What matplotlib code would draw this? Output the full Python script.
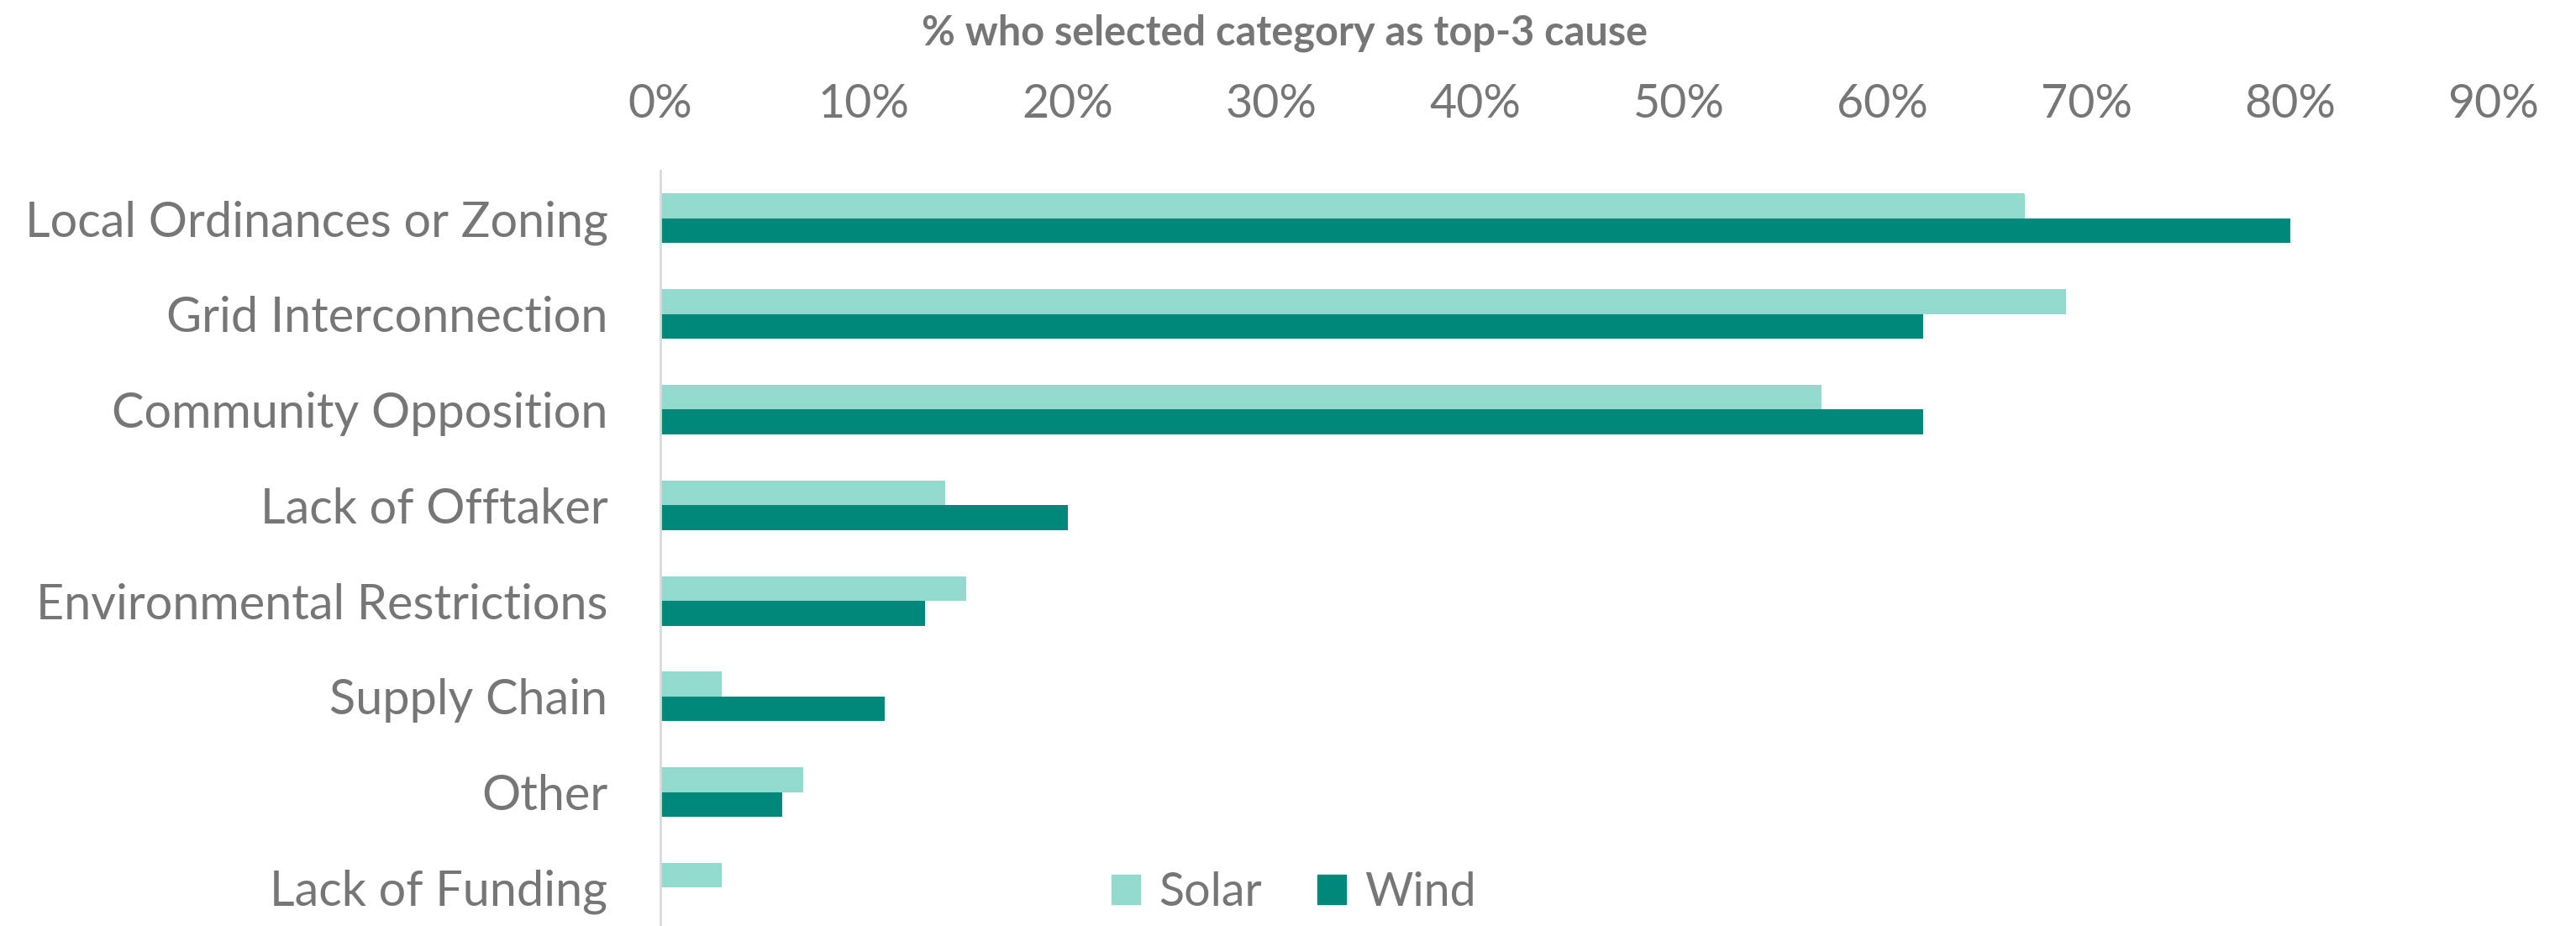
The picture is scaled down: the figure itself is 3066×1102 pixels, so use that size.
import numpy as np
import matplotlib.pyplot as plt
from matplotlib.patches import Patch

# data (percent)
categories = ["Local Ordinances or Zoning", "Grid Interconnection", "Community Opposition",
              "Lack of Offtaker", "Environmental Restrictions", "Supply Chain", "Other",
              "Lack of Funding"]
solar = [67, 69, 57, 14, 15, 3, 7, 3]
wind = [80, 62, 62, 20, 13, 11, 6, 0]
x_ticks = [0, 10, 20, 30, 40, 50, 60, 70, 80, 90]
x_tick_labels = [f"{t}%" for t in x_ticks]

c_solar = "#92D9CE"
c_wind = "#00897B"
c_text = "#767676"

plt.rcParams['font.family'] = ['Lato', 'DejaVu Sans']

fig = plt.figure(figsize=(30.66, 11.02), dpi=100)
ax = fig.add_axes([786 / 3066, 0.0, (2968 - 786) / 3066, 1 - 203 / 1102])

y = np.arange(len(categories))
h = 0.26
ax.barh(y - h / 2, solar, height=h, color=c_solar, label="Solar")
ax.barh(y + h / 2, wind, height=h, color=c_wind, label="Wind")

ax.set_xlim(0, 90)
ax.set_ylim(7.40, -0.5)
ax.set_xticks(x_ticks)
ax.set_xticklabels(x_tick_labels)
ax.set_yticks(y)
ax.set_yticklabels(categories)
ax.xaxis.tick_top()
ax.tick_params(axis="both", length=0, colors=c_text)
ax.tick_params(axis="x", pad=38, labelsize=40)
ax.tick_params(axis="y", pad=45, labelsize=41.5)

for s in ["top", "right", "bottom"]:
    ax.spines[s].set_visible(False)
ax.spines["left"].set_color("#D9D9D9")
ax.spines["left"].set_linewidth(2)

fig.text(1529 / 3066, 1 - 39 / 1102, "% who selected category as top-3 cause",
         ha="center", va="center", fontsize=35, fontweight="bold", color=c_text)

handles = [Patch(color=c_solar, label="Solar"), Patch(color=c_wind, label="Wind")]
fig.legend(handles=handles, loc="center", bbox_to_anchor=(1540 / 3066, 0.036), ncol=2,
           frameon=False, fontsize=40, labelcolor=c_text, handlelength=0.6,
           handleheight=0.6, handletextpad=0.4, columnspacing=1.2)

fig.savefig("out.png", dpi=100)
